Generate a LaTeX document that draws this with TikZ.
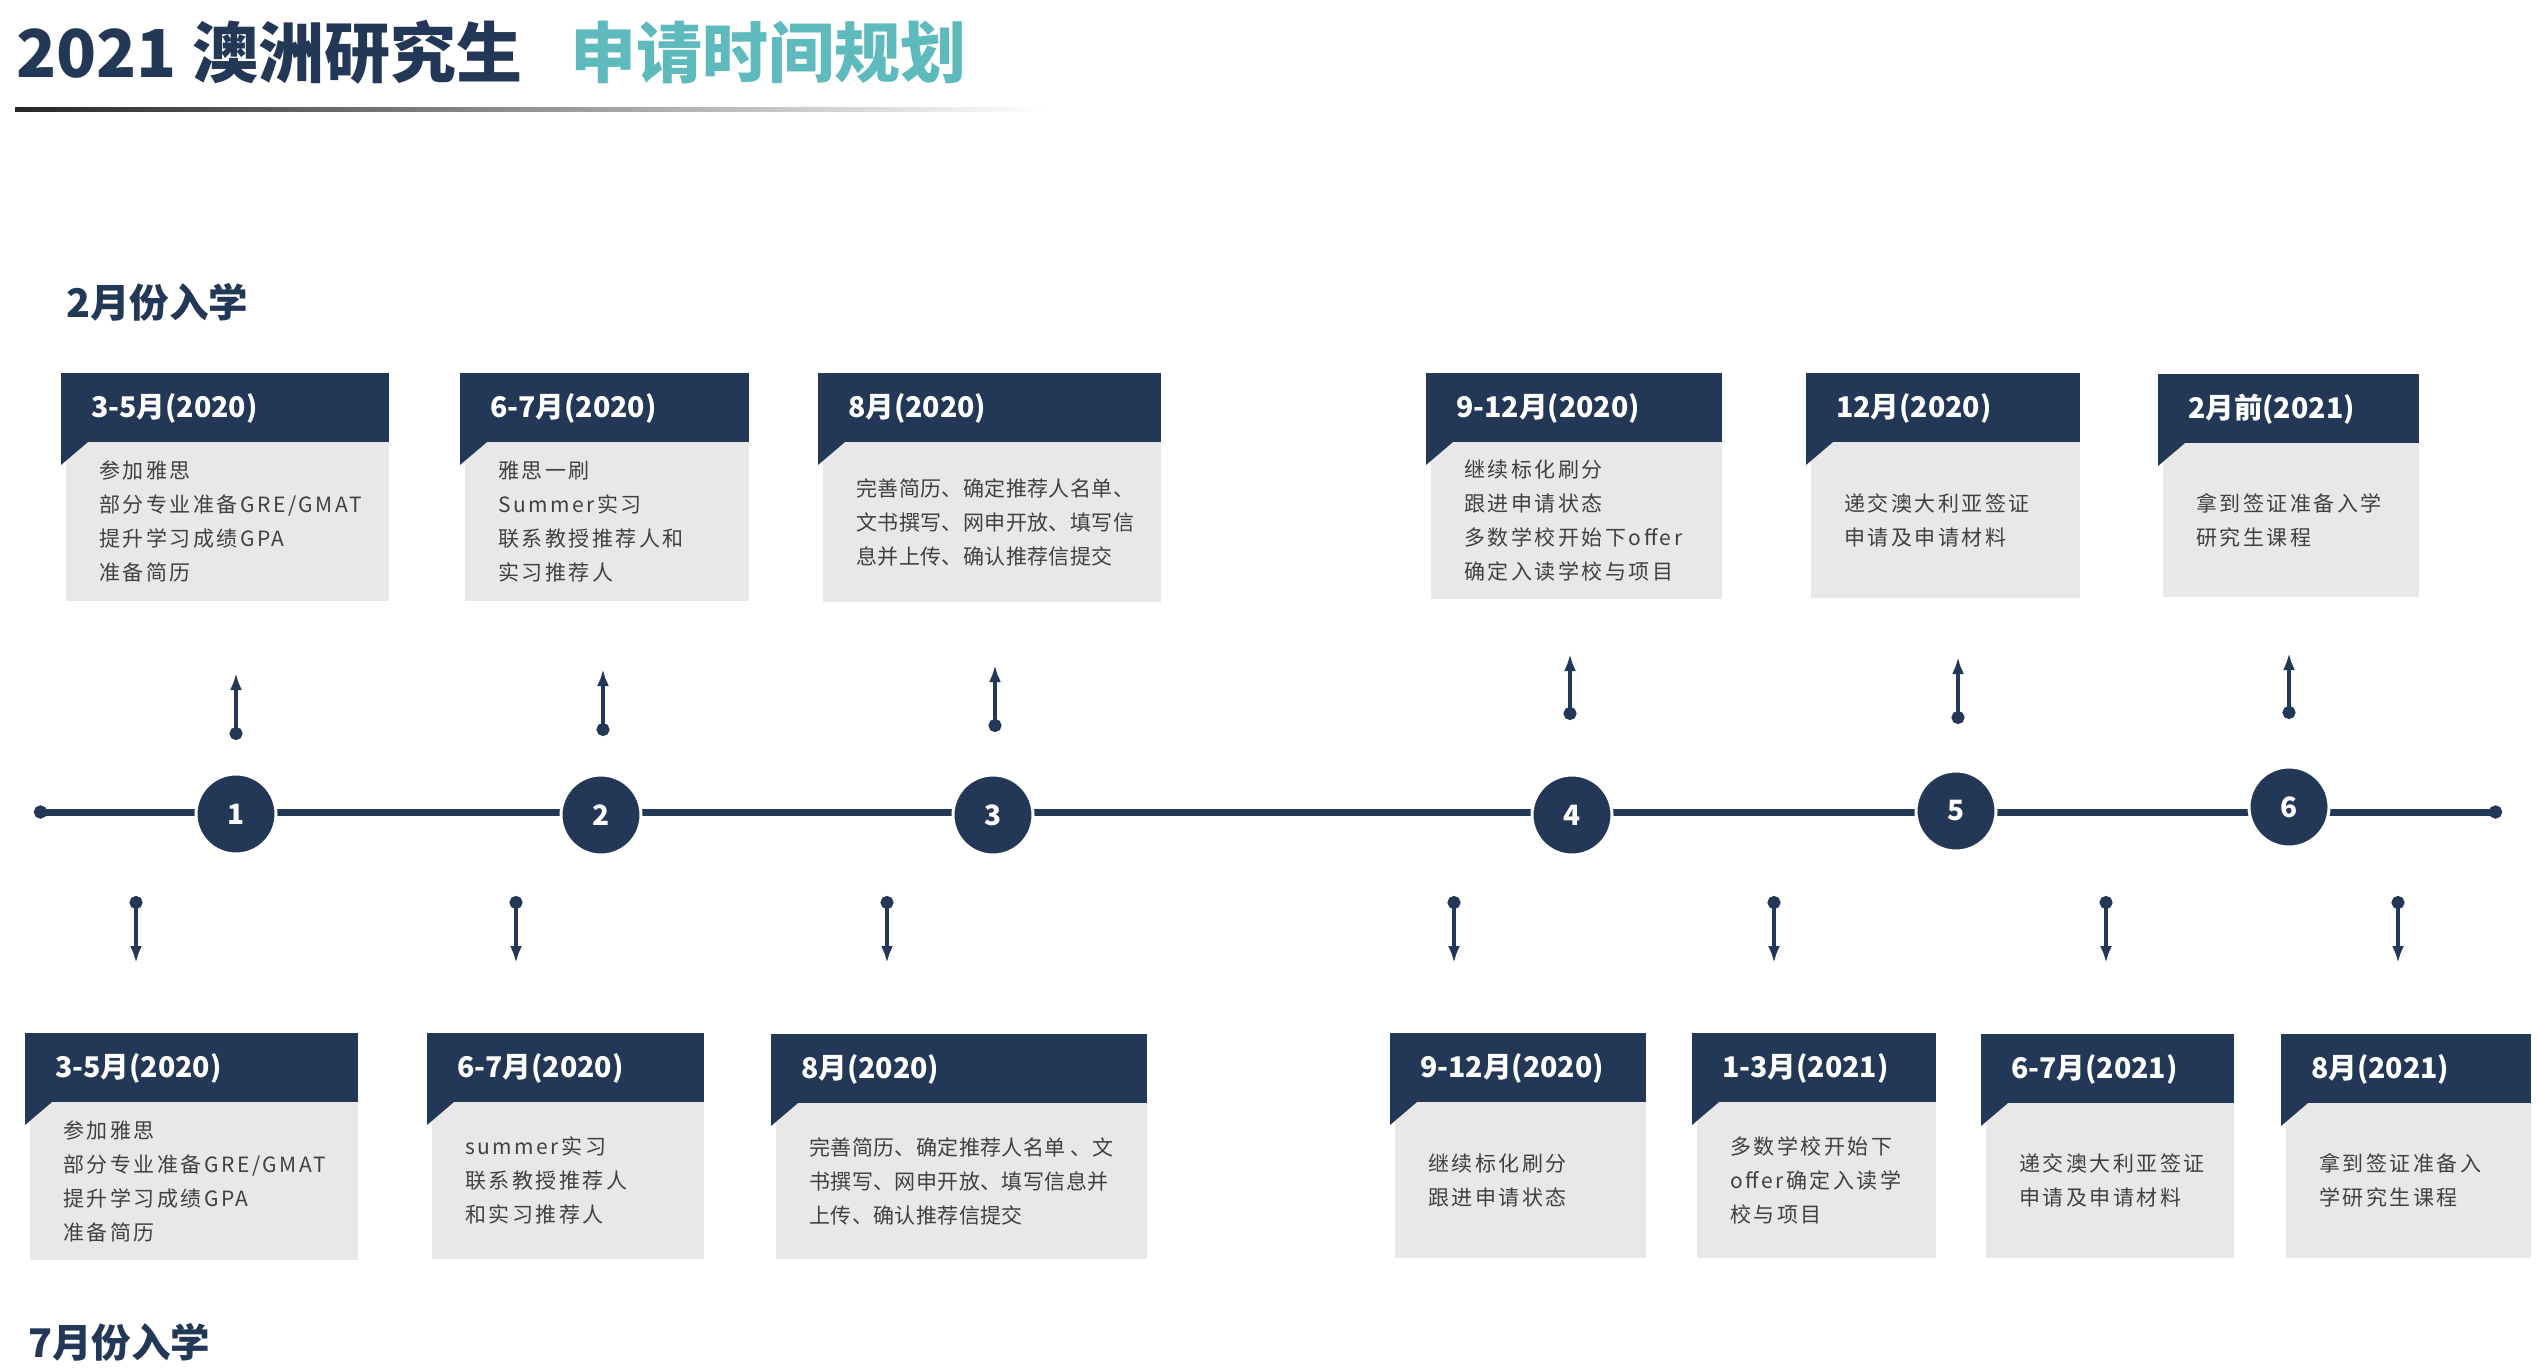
\documentclass[tikz,border=0pt]{standalone}
\usepackage{fontspec}
\setmainfont{Noto Sans CJK SC}
\newfontfamily\bodyfont[LetterSpace=12]{Noto Sans CJK SC}
\newfontfamily\densefont[LetterSpace=2]{Noto Sans CJK SC}
\usepackage{tikz}
\usetikzlibrary{%
arrows.meta,
calc,
positioning
}
\definecolor{navy}{RGB}{35,55,87}
\definecolor{teal}{RGB}{94,186,189}
\definecolor{boxgrey}{RGB}{232,232,232}
\definecolor{txtgrey}{RGB}{64,64,64}

\begin{document}
\begin{tikzpicture}[x=1pt,y=-1pt,
  headtxt/.style={anchor=west,inner sep=0pt,text=white,font=\bfseries\fontsize{28.5}{30}\selectfont},
  bodytxt/.style={anchor=west,inner sep=0pt,align=left,text=txtgrey,font=\bodyfont\fontsize{21}{34}\selectfont},
  densetxt/.style={bodytxt,font=\densefont\fontsize{21}{34}\selectfont},
  numnode/.style={circle,minimum size=80pt,inner sep=0pt,fill=navy,draw=white,line width=3pt,text=white,font=\bfseries\fontsize{28}{28}\selectfont},
  pointer/.style={navy,line width=3.5pt,{Circle[length=13pt,width=13pt]}-{Latex[length=17pt,width=12pt]}},
  seclabel/.style={anchor=west,inner sep=0pt,text=navy,font=\bfseries\fontsize{39.5}{40}\selectfont}
]
\useasboundingbox (0,0) rectangle (2538,1370);
\newcommand{\tlbox}[8]{%
        \fill[boxgrey] ({#2+5},{#4+69}) rectangle (#3,#5);
        \fill[navy] (#2,#4) rectangle (#3,{#4+69});
        \fill[navy] (#2,{#4+69}) -- (#2,{#4+92}) -- ({#2+27},{#4+69}) -- cycle;
        \node[headtxt] (#1h) at ({#2+30},{#4+35}) {#6};
        \node[#8] (#1b) at ({#2+38},{(#4+69+#5)/2}) {#7};
}
% title
\node[anchor=west,inner sep=0pt,text=navy,font=\bfseries\fontsize{66}{70}\selectfont] (title) at (16,52) {2021 澳洲研究生};
\node[right=48pt of title,inner sep=0pt,text=teal,font=\bfseries\fontsize{66}{70}\selectfont] (subtitle) {申请时间规划};
\shade[left color=black!85,middle color=black!45,right color=white] (15,108) rectangle (1045,112);
\node[seclabel] (feb) at (66,302) {2月份入学};
\node[seclabel] (jul) at (28,1342) {7月份入学};
% timeline
\coordinate (lend) at (34,812);
\coordinate (rend) at (2502,812);
\draw[navy,line width=7pt,{Circle[length=13pt,width=13pt]}-{Circle[length=13pt,width=13pt]}] (lend) -- (rend);
        \foreach \n/\x/\y in {1/236/814,2/601/815,3/993/815,4/1572/815,5/1956/811,6/2289/807} {
                \node[numnode] (c\n) at (\x,\y) {\n};
        }
        \foreach \n/\x/\yt/\yh in {1/236/740/673,2/603/736/669,3/995/732/665,4/1570/720/654,5/1958/724/657,6/2289/719/653} {
                \coordinate (ut\n) at (\x,\yt);
                \coordinate (uh\n) at (\x,\yh);
                \draw[pointer] (ut\n) -- (uh\n);
        }
        \foreach \n/\x in {1/136,2/516,3/887,4/1454,5/1774,6/2106,7/2398} {
                \coordinate (dt\n) at (\x,896);
                \coordinate (dh\n) at (\x,963);
                \draw[pointer] (dt\n) -- (dh\n);
        }
% February intake
\tlbox{fa}{61}{389}{373}{601}{3-5月(2020)}{参加雅思\\部分专业准备GRE/GMAT\\提升学习成绩GPA\\准备简历}{bodytxt}
\tlbox{fb}{460}{749}{373}{601}{6-7月(2020)}{雅思一刷\\Summer实习\\联系教授推荐人和\\实习推荐人}{bodytxt}
\tlbox{fc}{818}{1161}{373}{602}{8月(2020)}{完善简历、确定推荐人名单、\\文书撰写、网申开放、填写信\\息并上传、确认推荐信提交}{densetxt}
\tlbox{fd}{1426}{1722}{373}{599}{9-12月(2020)}{继续标化刷分\\跟进申请状态\\多数学校开始下offer\\确定入读学校与项目}{bodytxt}
\tlbox{fe}{1806}{2080}{373}{598}{12月(2020)}{递交澳大利亚签证\\申请及申请材料}{bodytxt}
\tlbox{ff}{2158}{2419}{374}{597}{2月前(2021)}{拿到签证准备入学\\研究生课程}{bodytxt}
% July intake
\tlbox{ja}{25}{358}{1033}{1260}{3-5月(2020)}{参加雅思\\部分专业准备GRE/GMAT\\提升学习成绩GPA\\准备简历}{bodytxt}
\tlbox{jb}{427}{704}{1033}{1259}{6-7月(2020)}{summer实习\\联系教授推荐人\\和实习推荐人}{bodytxt}
\tlbox{jc}{771}{1147}{1034}{1259}{8月(2020)}{完善简历、确定推荐人名单 、文\\书撰写、网申开放、填写信息并\\上传、确认推荐信提交}{densetxt}
\tlbox{jd}{1390}{1646}{1033}{1258}{9-12月(2020)}{继续标化刷分\\跟进申请状态}{bodytxt}
\tlbox{je}{1692}{1936}{1033}{1258}{1-3月(2021)}{多数学校开始下\\offer确定入读学\\校与项目}{bodytxt}
\tlbox{jf}{1981}{2234}{1034}{1258}{6-7月(2021)}{递交澳大利亚签证\\申请及申请材料}{bodytxt}
\tlbox{jg}{2281}{2531}{1034}{1258}{8月(2021)}{拿到签证准备入\\学研究生课程}{bodytxt}
\end{tikzpicture}
\end{document}
